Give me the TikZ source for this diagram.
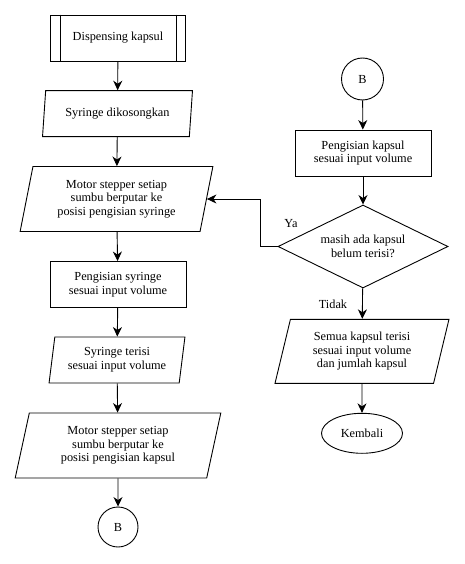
\documentclass[tikz,border=0pt]{standalone}
\usepackage{fontspec}
\setmainfont{Liberation Serif}
\usetikzlibrary{shapes.geometric,arrows.meta}
\begin{document}
\begin{tikzpicture}[x=1pt,y=-1pt,
  font=\fontsize{12.3}{13.6}\selectfont,
  line width=0.9pt,
  every node/.style={align=center, inner sep=1pt},
  procbox/.style={draw, rectangle, minimum width=136pt, minimum height=46pt},
  iobox/.style={draw, trapezium, trapezium stretches=true,
    trapezium left angle=#1, trapezium right angle=180-#1},
  conn/.style={circle, draw, minimum size=40pt, inner sep=0pt},
  decide/.style={diamond, draw, aspect=2.05, minimum width=170pt, minimum height=83pt, inner sep=0pt},
  endbox/.style={ellipse, draw, minimum width=81pt, minimum height=40pt},
  flow/.style={-{Stealth[length=9.5pt,width=9pt,inset=3pt]}}
]
\useasboundingbox (0,0) rectangle (465,564);

% left column
\node[procbox, minimum width=135pt] (start) at (118,38) {Dispensing kapsul};
\draw ([xshift=10pt]start.north west) -- ([xshift=10pt]start.south west);
\draw ([xshift=-10pt]start.north east) -- ([xshift=-10pt]start.south east);

\node[iobox=80, minimum width=150pt, minimum height=46pt] (empty) at (117.5,113.7) {Syringe dikosongkan};
\node[iobox=77, minimum width=193pt, minimum height=65pt] (rotA) at (116.5,199) {Motor stepper setiap\\sumbu berputar ke\\posisi pengisian syringe};
\node[procbox] (fillS) at (118,284.5) {Pengisian syringe\\sesuai input volume};
\node[iobox=80, minimum width=136pt, minimum height=46pt] (filled) at (117,360) {Syringe terisi\\sesuai input volume};
\node[iobox=77, minimum width=206pt, minimum height=65pt] (rotB) at (118,445.5) {Motor stepper setiap\\sumbu berputar ke\\posisi pengisian kapsul};
\node[conn] (bOut) at (118,527) {B};

% right column
\node[conn, minimum size=42pt] (bIn) at (362.5,79) {B};
\node[procbox] (fillK) at (363,153) {Pengisian kapsul\\sesuai input volume};
\node[decide] (check) at (363,246.5) {masih ada kapsul\\belum terisi?};
\node[iobox=75, minimum width=174pt, minimum height=64pt] (done) at (362,351.3) {Semua kapsul terisi\\sesuai input volume\\dan jumlah kapsul};
\node[endbox] (stop) at (362,433.3) {Kembali};

\node (ya) at (291,224) {Ya};
\node (tidak) at (333,304) {Tidak};
\coordinate (loop) at (260,246.5);

% connectors
\draw[flow] (start) -- (empty);
\draw[flow] (empty) -- (rotA);
\draw[flow] (rotA) -- (fillS);
\draw[flow] (fillS) -- (filled);
\draw[flow] (filled) -- (rotB);
\draw[flow] (rotB) -- (bOut);
\draw[flow] (bIn) -- (fillK);
\draw[flow] (fillK) -- (check);
\draw[flow] (check) -- (done);
\draw[flow] (done) -- (stop);
\draw[flow] (check.west) -- (loop) |- (rotA.east);
\end{tikzpicture}
\end{document}
